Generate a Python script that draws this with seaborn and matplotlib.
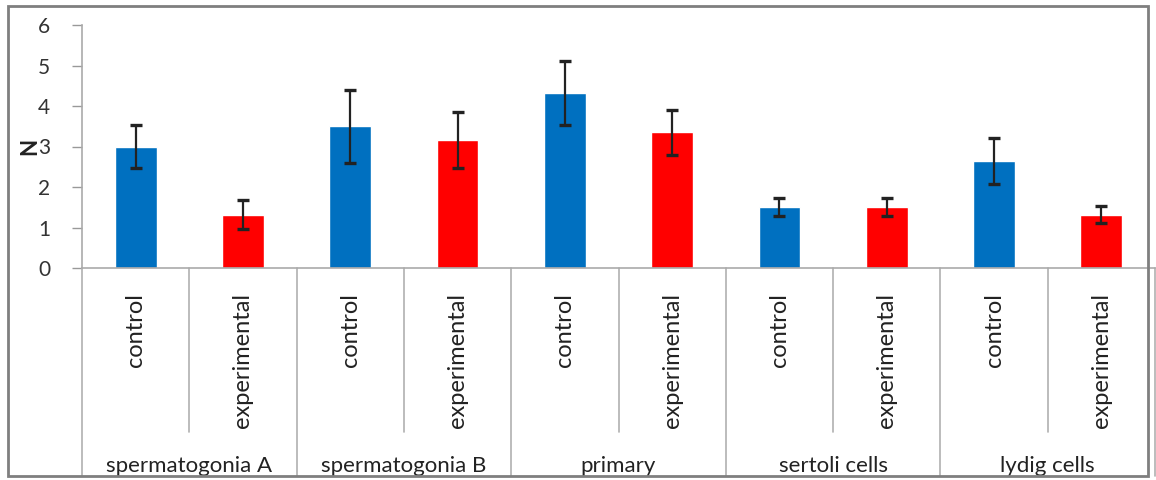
import matplotlib
matplotlib.use("Agg")
import matplotlib.pyplot as plt
import matplotlib.transforms as mtransforms
from matplotlib.patches import Rectangle
import seaborn as sns
import pandas as pd
import numpy as np

groups = ["spermatogonia A", "spermatogonia B", "primary", "sertoli cells", "lydig cells"]
conditions = ["control", "experimental"]
control_vals = [3.0, 3.5, 4.32, 1.51, 2.65]
experimental_vals = [1.32, 3.16, 3.35, 1.51, 1.32]
control_err = [0.52, 0.9, 0.8, 0.23, 0.57]
experimental_err = [0.35, 0.7, 0.55, 0.23, 0.22]
yticks = [0, 1, 2, 3, 4, 5, 6]

rows = []
for g, cv, ev, ce, ee in zip(groups, control_vals, experimental_vals, control_err, experimental_err):
    rows.append({"group": g, "cond": "control", "key": g + "|control", "N": cv, "err": ce})
    rows.append({"group": g, "cond": "experimental", "key": g + "|experimental", "N": ev, "err": ee})
df = pd.DataFrame(rows)

sns.set_theme(style="white")
plt.rcParams["font.family"] = ["Lato", "DejaVu Sans"]

fig = plt.figure(figsize=(11.56, 4.8), dpi=100)
ax = fig.add_axes([82 / 1156, 1 - 268 / 480, (1155 - 82) / 1156, (268 - 25) / 480])

palette = {"control": "#0070C0", "experimental": "#FF0000"}
sns.barplot(data=df, x="key", y="N", hue="cond", palette=palette, dodge=False,
            width=0.39, ax=ax, legend=False, errorbar=None, saturation=1)

# error bars at bar centres
xs = []
for p in ax.patches:
    if p.get_height() > 0:
        xs.append(p.get_x() + p.get_width() / 2)
xs = sorted(xs)
ax.errorbar(xs, df["N"].values, yerr=df["err"].values, fmt="none",
            ecolor="#222222", elinewidth=1.6, capsize=4.5, capthick=2.4, zorder=5)

ax.set_ylim(0, 6)
ax.set_xlim(-0.5, len(df) - 0.5)
ax.set_yticks(yticks)
ax.set_yticklabels([str(t) for t in yticks], fontsize=15, color="#333333")
ax.tick_params(axis="y", left=True, length=7, width=1, color="#999999", pad=16)
ax.set_xticks(range(len(df)))
ax.set_xticklabels(df["cond"].values, rotation=90, fontsize=17, color="#222222",
                   va="top", ha="center")
ax.tick_params(axis="x", bottom=False, pad=12)
ax.set_xlabel("")
ax.set_ylabel("N", fontsize=16, fontweight="bold", rotation=90, color="#222222")
ax.yaxis.set_label_coords(-0.039, 0.5)

for s in ["top", "right"]:
    ax.spines[s].set_visible(False)
for s in ["left", "bottom"]:
    ax.spines[s].set_color("#aaaaaa")
    ax.spines[s].set_linewidth(1.2)

trans = mtransforms.blended_transform_factory(ax.transData, ax.transAxes)
# axes height in px = 243; bottom at 268px
def ay(py):
    return (268 - py) / 243.0

n = len(df)
for i in range(n + 1):
    xb = i - 0.5
    if i % 2 == 0:
        ax.plot([xb, xb], [0, ay(476)], transform=trans, color="#b0b0b0", lw=1.2, clip_on=False)
    else:
        ax.plot([xb, xb], [0, ay(432)], transform=trans, color="#b0b0b0", lw=1.2, clip_on=False)

for gi, g in enumerate(groups):
    ax.text(2 * gi + 0.5, ay(466), g, transform=trans, ha="center", va="center",
            fontsize=16, color="#222222")

fig.patches.append(Rectangle((8 / 1156, 4 / 480), 1 - 16 / 1156, 1 - 10 / 480,
                             transform=fig.transFigure, fill=False,
                             edgecolor="#7f7f7f", lw=2))

fig.savefig("out.png", dpi=100)
